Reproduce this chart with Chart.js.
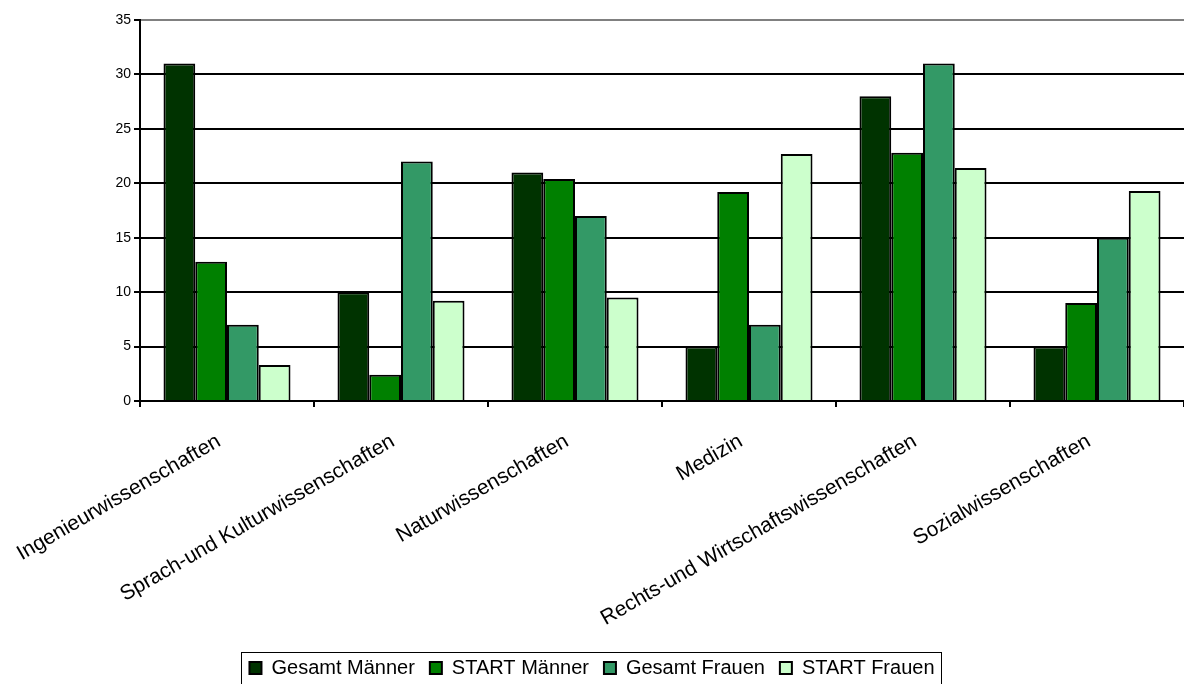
<!DOCTYPE html>
<html>
<head>
<meta charset="utf-8">
<title>Studienfächer</title>
<script src="https://cdn.jsdelivr.net/npm/chart.js@4/dist/chart.umd.min.js"></script>
<style>
  html, body { margin: 0; padding: 0; background: #fff; overflow: hidden; }
  #wrap { width: 1184px; height: 700px; }
</style>
</head>
<body>
<div id="wrap"><canvas id="chart" width="1184" height="700"></canvas></div>
<script>
const categories = [
  'Ingenieurwissenschaften',
  'Sprach-und Kulturwissenschaften',
  'Naturwissenschaften',
  'Medizin',
  'Rechts-und Wirtschaftswissenschaften',
  'Sozialwissenschaften'
];
const gesamtMaenner = [31, 10, 21, 5, 28, 5];
const startMaenner  = [12.8, 2.4, 20.4, 19.2, 22.8, 9];
const gesamtFrauen  = [7, 22, 17, 7, 31, 15];
const startFrauen   = [3.3, 9.2, 9.5, 22.7, 21.4, 19.3];
const yMin = 0, yMax = 35, yStep = 5;

const FONT = '"Liberation Sans", Arial, sans-serif';

// thin frame around the legend row
const legendFrame = {
  id: 'legendFrame',
  afterDraw(chart) {
    const boxes = chart.legend && chart.legend.legendHitBoxes;
    if (!boxes || !boxes.length) return;
    const first = boxes[0];
    const last = boxes[boxes.length - 1];
    const ctx = chart.ctx;
    ctx.save();
    ctx.strokeStyle = '#000';
    ctx.lineWidth = 1;
    ctx.strokeRect(Math.round(first.left) - 7.5, Math.round(first.top) - 5.5,
      Math.round(last.left + last.width - first.left) + 15, first.height + 16);
    ctx.restore();
  }
};

function series(label, data, color) {
  return {
    label,
    data,
    backgroundColor: color,
    borderColor: '#000',
    borderWidth: 2,
    categoryPercentage: 0.73,
    barPercentage: 1.0
  };
}

new Chart(document.getElementById('chart'), {
  type: 'bar',
  data: {
    labels: categories,
    datasets: [
      series('Gesamt Männer', gesamtMaenner, '#003300'),
      series('START Männer', startMaenner, '#008000'),
      series('Gesamt Frauen', gesamtFrauen, '#339966'),
      series('START Frauen', startFrauen, '#ccffcc')
    ]
  },
  options: {
    responsive: false,
    animation: false,
    layout: { padding: { top: 20, right: 0, bottom: 12, left: 0 } },
    plugins: {
      tooltip: { enabled: false },
      legend: {
        position: 'bottom',
        labels: {
          color: '#000',
          font: { family: FONT, size: 20 },
          boxWidth: 12,
          boxHeight: 12,
          padding: 15
        }
      }
    },
    scales: {
      x: {
        afterFit(scale) {
          // fixed label band; long rotated labels may run under the y axis
          scale.height = 242;
          scale.paddingLeft = 0;
          scale.paddingRight = 0;
        },
        border: { color: '#000', width: 2 },
        grid: {
          offset: true,
          drawOnChartArea: false,
          color: '#000',
          lineWidth: 2,
          tickLength: 6
        },
        ticks: {
          autoSkip: false,
          minRotation: 30,
          maxRotation: 30,
          color: '#000',
          font: { family: FONT, size: 21 },
          padding: 22,
          labelOffset: -8
        }
      },
      y: {
        min: yMin,
        max: yMax,
        afterFit(scale) { scale.width = 140; },
        border: { color: '#000', width: 2 },
        grid: {
          color: (c) => (c.tick && c.tick.value === yMax ? '#808080' : '#000'),
          tickColor: '#000',
          lineWidth: 2,
          tickLength: 6
        },
        ticks: {
          stepSize: yStep,
          color: '#000',
          font: { family: FONT, size: 14 },
          padding: 3
        }
      }
    }
  },
  plugins: [legendFrame]
});
</script>
</body>
</html>
